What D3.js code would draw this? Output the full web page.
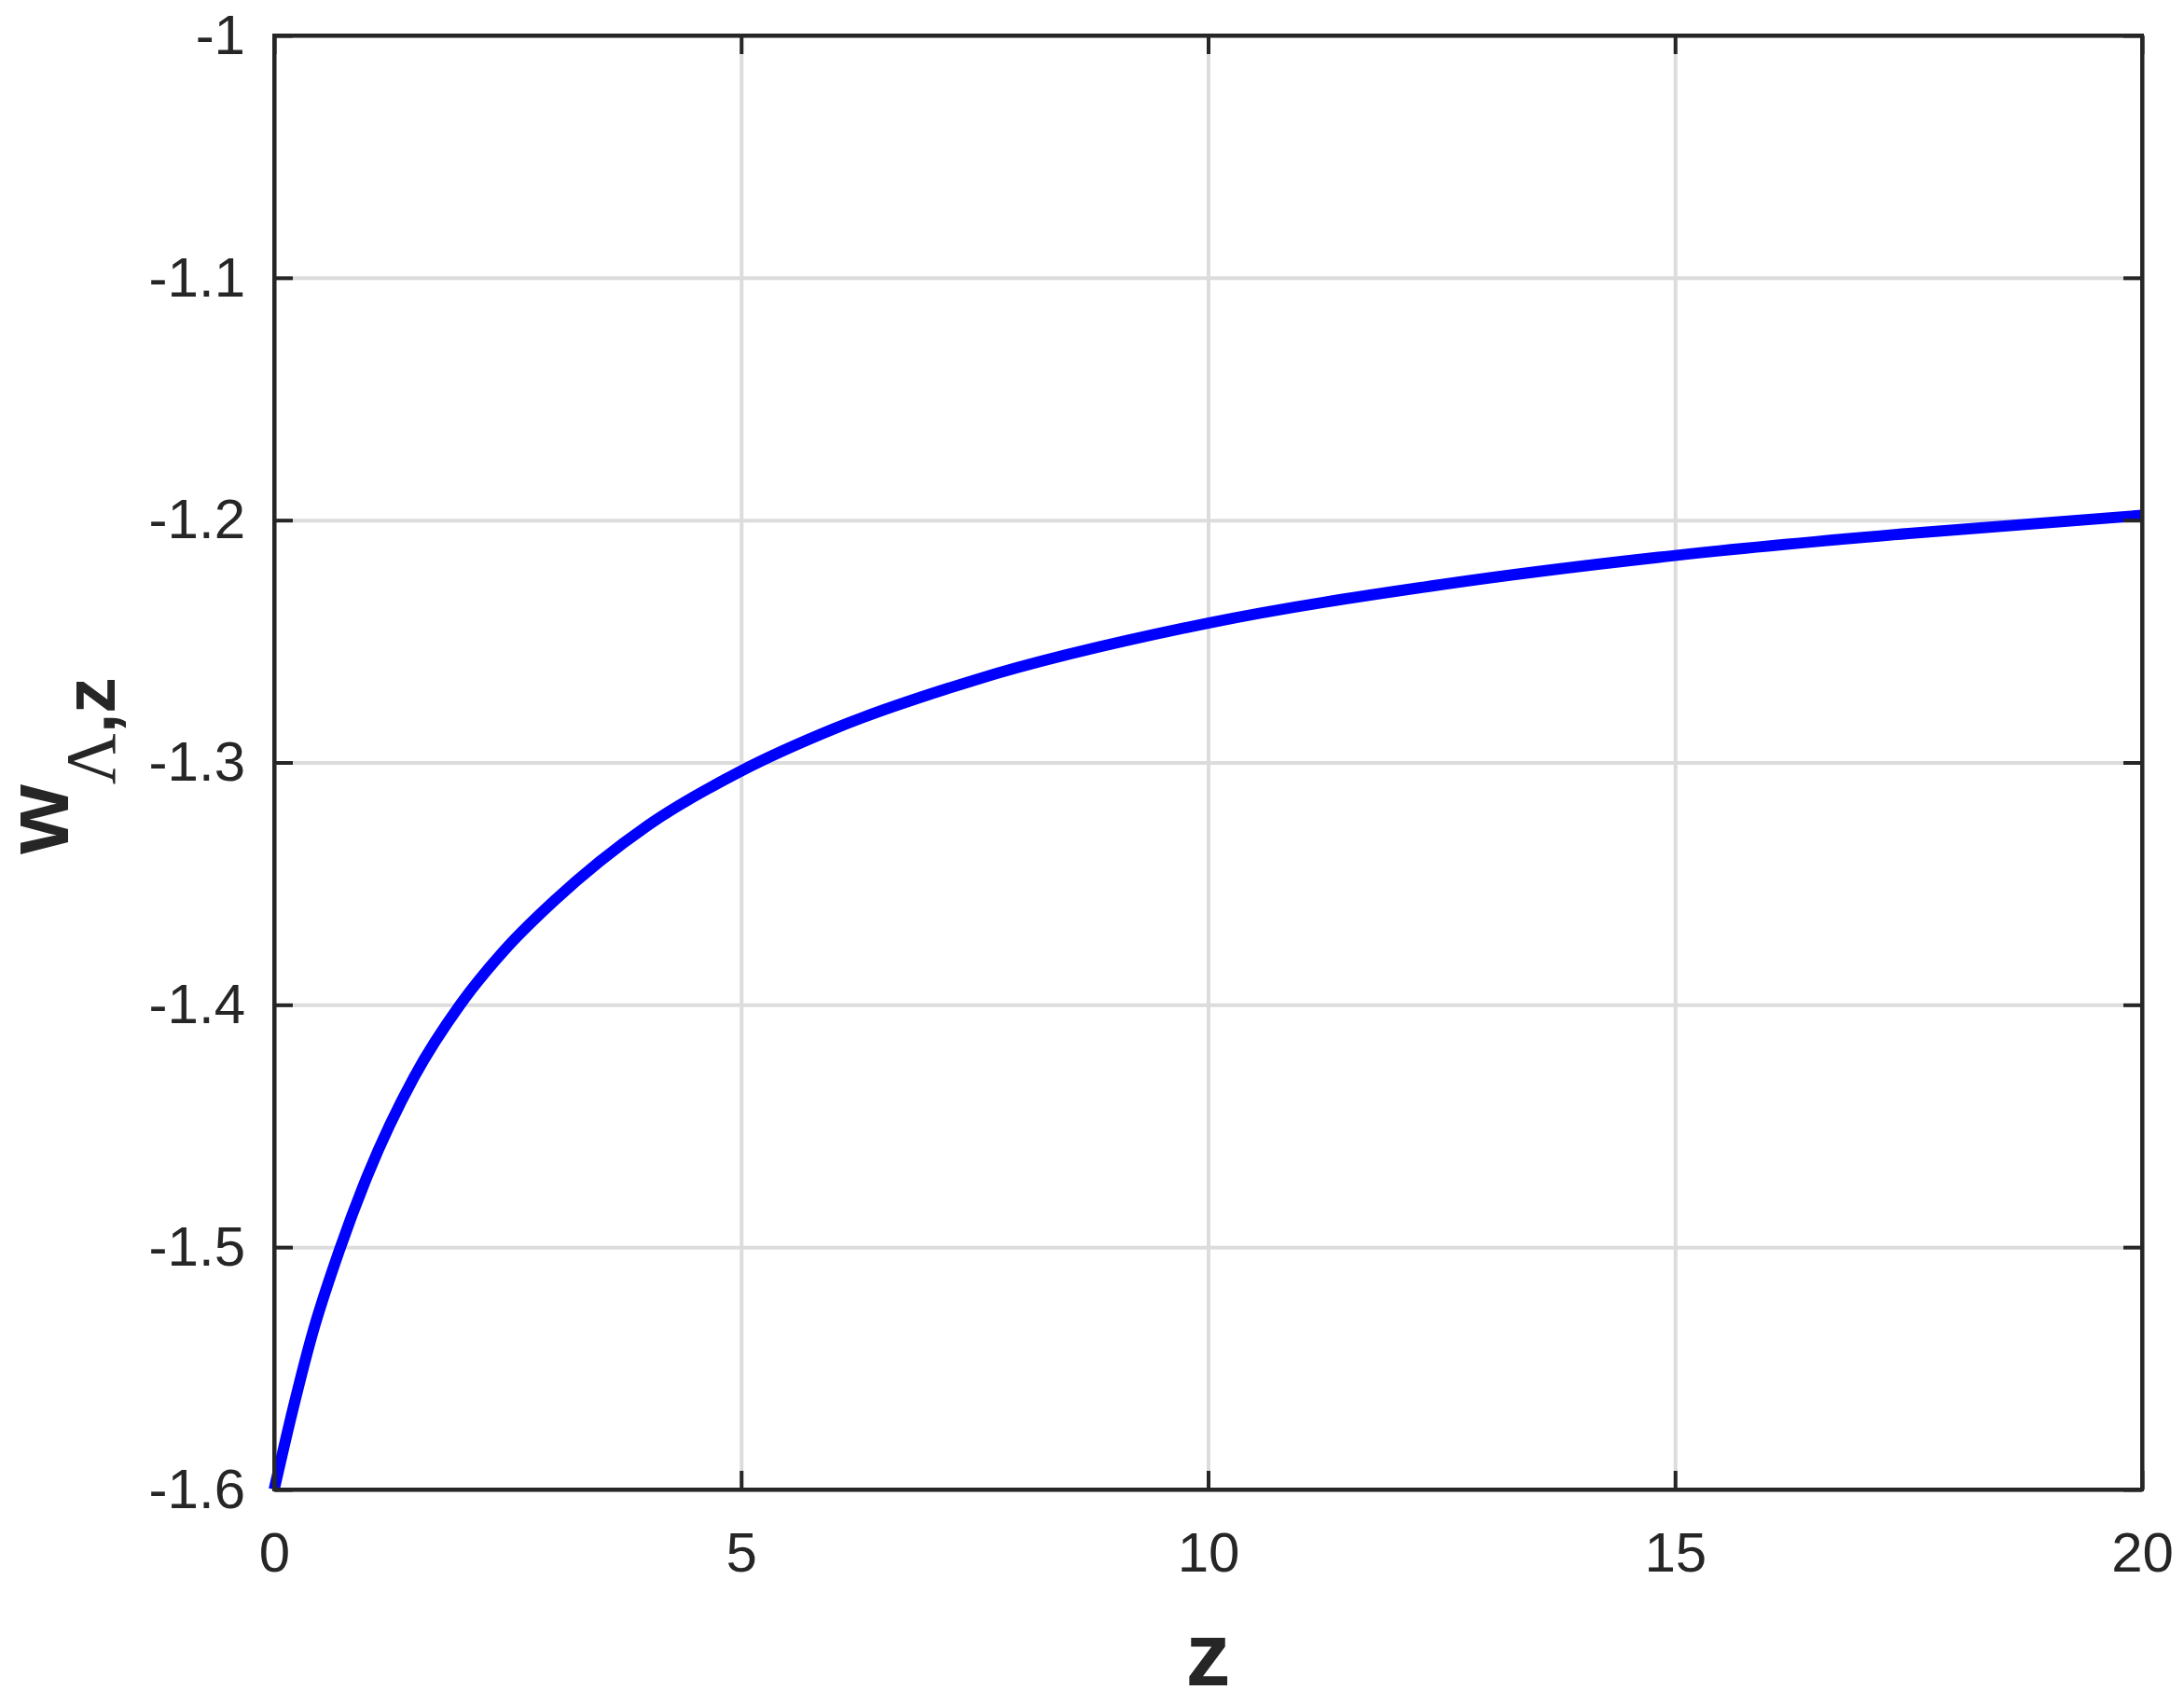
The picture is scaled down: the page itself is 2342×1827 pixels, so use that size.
<!DOCTYPE html>
<html>
<head>
<meta charset="utf-8">
<script src="https://cdn.jsdelivr.net/npm/d3@7"></script>
<style>
  body { margin: 0; background: #fff; }
  svg { display: block; }
</style>
</head>
<body>
<div id="chart"></div>
<script>
var w = 2342;
var h = 1827;
var margin = { top: 38, right: 45, bottom: 230, left: 294 };

// values
var zValues = [0, 0.2, 0.4, 0.71, 1.0, 1.5, 2.0, 2.5, 3.0, 4.0, 5.0, 6.0, 7.5, 10, 12.5, 15, 17.5, 20];
var wValues = [-1.6, -1.567, -1.537, -1.5, -1.4704, -1.4297, -1.3995, -1.376, -1.357, -1.326, -1.3035, -1.286, -1.266, -1.2425, -1.2266, -1.2146, -1.2055, -1.198];

var xTicks = [0, 5, 10, 15, 20];
var yTicks = [-1.6, -1.5, -1.4, -1.3, -1.2, -1.1, -1];

var axisColor = "#262626";
var gridColor = "#dcdcdc";

var iw = w - margin.left - margin.right;
var ih = h - margin.top - margin.bottom;

var svg = d3
  .select("#chart")
  .append("svg")
  .attr("width", w)
  .attr("height", h);

var g = svg.append("g").attr("transform", "translate(" + margin.left + "," + margin.top + ")");

// Define scales
var xScale = d3.scaleLinear().domain([0, 20]).range([0, iw]);
var yScale = d3.scaleLinear().domain([-1.6, -1]).range([ih, 0]);

// Grid
g.append("g")
  .attr("class", "grid")
  .attr("transform", "translate(0," + ih + ")")
  .call(d3.axisBottom(xScale).tickValues(xTicks).tickSize(-ih).tickFormat(""));
g.append("g")
  .attr("class", "grid")
  .call(d3.axisLeft(yScale).tickValues(yTicks).tickSize(-iw).tickFormat(""));
g.selectAll(".grid .domain").remove();
g.selectAll(".grid line").attr("stroke", gridColor).attr("stroke-width", 4);

// Curve
var data = zValues.map(function (z, i) {
  return { z: z, w: wValues[i] };
});

var line = d3
  .line()
  .x(function (d) { return xScale(d.z); })
  .y(function (d) { return yScale(d.w); })
  .curve(d3.curveMonotoneX);

g.append("path")
  .datum(data)
  .attr("fill", "none")
  .attr("stroke", "#0000ff")
  .attr("stroke-width", 12)
  .attr("d", line);

// Axes (ticks inside, box on)
var fmt = function (d) { return String(d); };

var xAxis = g.append("g")
  .attr("transform", "translate(0," + ih + ")")
  .call(d3.axisBottom(xScale).tickValues(xTicks).tickSizeInner(-20).tickSizeOuter(0).tickPadding(45).tickFormat(fmt));
var xTop = g.append("g")
  .call(d3.axisTop(xScale).tickValues(xTicks).tickSizeInner(-20).tickSizeOuter(0).tickFormat(""));
var yAxis = g.append("g")
  .call(d3.axisLeft(yScale).tickValues(yTicks).tickSizeInner(-20).tickSizeOuter(0).tickPadding(31).tickFormat(fmt));
var yRight = g.append("g")
  .attr("transform", "translate(" + iw + ",0)")
  .call(d3.axisRight(yScale).tickValues(yTicks).tickSizeInner(-20).tickSizeOuter(0).tickFormat(""));

[xAxis, xTop, yAxis, yRight].forEach(function (a) {
  a.selectAll("path.domain").attr("stroke", axisColor).attr("stroke-width", 4);
  a.selectAll("line").attr("stroke", axisColor).attr("stroke-width", 4);
  a.selectAll("text")
    .attr("fill", axisColor)
    .style("font-family", "'Liberation Sans', Arial, sans-serif")
    .style("font-size", "60px");
});

// Box
g.append("rect")
  .attr("x", 0)
  .attr("y", 0)
  .attr("width", iw)
  .attr("height", ih)
  .attr("fill", "none")
  .attr("stroke", axisColor)
  .attr("stroke-width", 4);

// Axis labels
svg.append("text")
  .attr("x", margin.left + iw / 2)
  .attr("y", 1807)
  .attr("text-anchor", "middle")
  .attr("fill", axisColor)
  .style("font-family", "'Liberation Sans', Arial, sans-serif")
  .style("font-weight", "bold")
  .style("font-size", "96px")
  .text("z");

var yl = svg.append("text")
  .attr("transform", "translate(73," + 821 + ") rotate(-90)")
  .attr("text-anchor", "middle")
  .attr("fill", axisColor)
  .style("font-family", "'Liberation Sans', Arial, sans-serif");
yl.append("tspan")
  .style("font-weight", "bold")
  .style("font-size", "96px")
  .text("w");
yl.append("tspan")
  .attr("dy", 50)
  .style("font-family", "'Liberation Serif', 'Times New Roman', serif")
  .style("font-size", "76px")
  .text("Λ");
yl.append("tspan")
  .style("font-weight", "bold")
  .style("font-size", "77px")
  .text(",z");
</script>
</body>
</html>
